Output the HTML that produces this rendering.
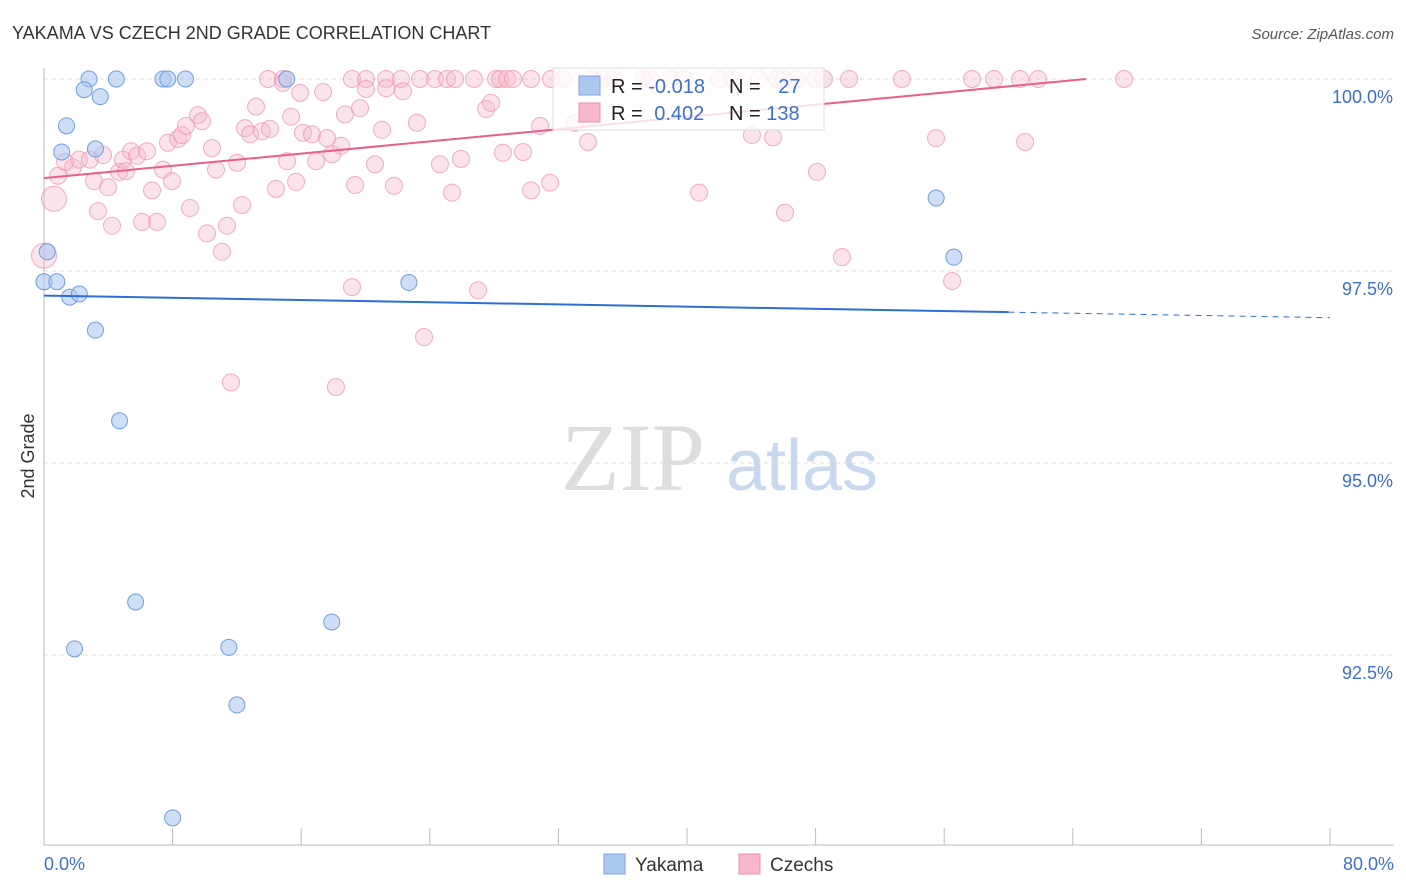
<!DOCTYPE html>
<html><head><meta charset="utf-8">
<style>
body{margin:0;background:#fff;font-family:"Liberation Sans",sans-serif;}
svg{display:block}
</style></head>
<body>
<svg width="1406" height="892" xmlns="http://www.w3.org/2000/svg">
<text x="12" y="39" font-size="18" fill="#333">YAKAMA VS CZECH 2ND GRADE CORRELATION CHART</text>
<text x="1394" y="39" font-size="15" fill="#555" text-anchor="end" font-style="italic">Source: ZipAtlas.com</text>
<g>
<text x="633" y="490" font-size="96" fill="#ddd" font-family="Liberation Serif,serif" text-anchor="middle">ZIP</text>
<text x="802" y="490" font-size="72" fill="#c8d8ef" text-anchor="middle">atlas</text>
</g>
<g id="grid"></g>
<g id="axes"></g>
<g id="pts"></g>
<g id="lines"></g>
<g>
<rect x="553" y="68" width="271" height="62" fill="#fff" fill-opacity="0.8" stroke="#ddd"/>
<rect x="579" y="76" width="21" height="19" fill="#adc8f0" stroke="#7da6e0"/>
<rect x="579" y="103" width="21" height="19" fill="#f6b8ca" stroke="#ee8faa"/>
<text x="611" y="93" font-size="20" fill="#222">R = <tspan fill="#3b6fd4">-0.018</tspan></text>
<text x="729" y="93" font-size="20" fill="#222">N = <tspan fill="#3b6fd4" dx="12">27</tspan></text>
<text x="611" y="120" font-size="20" fill="#222">R = <tspan fill="#3b6fd4" dx="6">0.402</tspan></text>
<text x="729" y="120" font-size="20" fill="#222">N = <tspan fill="#3b6fd4">138</tspan></text>
</g>
<g>
<rect x="604" y="854" width="21" height="20" fill="#adc8f0" stroke="#7da6e0"/>
<text x="635" y="871" font-size="19" fill="#333">Yakama</text>
<rect x="739" y="854" width="21" height="20" fill="#f6b8ca" stroke="#ee8faa"/>
<text x="770" y="871" font-size="19" fill="#333">Czechs</text>
</g>
<text transform="translate(34,456) rotate(-90)" font-size="18" fill="#333" text-anchor="middle">2nd Grade</text>
</svg>
<script>
const yTicks=[100,97.5,95,92.5];
const yTickLabels=["100.0%","97.5%","95.0%","92.5%"];
const xTicks=[0,8,16,24,32,40,48,56,64,72,80];
const xEndLabels=["0.0%","80.0%"];
const yakamaX=[0.2,0,0.8,1.6,2.2,3.2,2.8,4.5,7.4,7.7,8.8,15.1,2.5,3.5,1.4,1.1,3.2,4.7,5.7,1.9,11.5,17.9,12,8,22.7,55.5,56.6];
const yakamaY=[97.75,97.36,97.36,97.16,97.2,96.73,100,100,100,100,100,100,99.86,99.77,99.39,99.05,99.09,95.55,93.19,92.58,92.6,92.93,91.85,90.38,97.35,98.45,97.68];
const czTopX=[13.93,14.87,19.16,20.03,21.28,22.21,23.39,24.32,25.07,25.57,26.75,28.12,28.37,28.8,29.18,30.3,31.54,32.29,34.03,34.77,35.4,37.26,37.7,39,39.81,41.99,42.8,44.48,45.6,46.03,46.78,47.96,48.52,50.08,53.37,57.73,59.1,60.72,61.84,67.19];
const czX=[0.87,0.62,0,1.8,2.18,2.86,1.31,3.11,3.36,3.67,3.98,4.23,4.67,4.91,5.1,5.41,5.79,6.1,6.41,6.72,7.03,7.4,7.71,7.96,8.34,8.58,8.83,9.08,9.58,9.83,10.14,10.45,10.7,11.07,11.38,11.63,12.01,12.32,12.5,12.82,13.19,13.56,14.06,14.43,14.87,15.12,15.37,15.68,15.93,16.11,16.67,16.92,17.36,17.61,17.92,18.16,18.48,18.72,19.16,19.35,19.66,20.03,20.59,21.03,21.28,21.77,22.33,23.2,23.64,24.63,25.38,25.94,27,27.5,27.81,28.55,29.8,30.3,30.86,31.48,33.03,33.84,40.75,44.04,45.35,46.1,48.09,49.64,55.49,56.49,61.03];
const czY=[98.74,98.44,97.7,98.85,98.95,98.95,98.92,98.67,98.28,99.01,98.59,98.09,98.79,98.95,98.8,99.06,99,98.14,99.06,98.55,98.14,98.82,99.17,98.67,99.22,99.27,99.39,98.32,99.53,99.45,97.99,99.1,98.82,97.75,98.09,96.05,98.91,98.36,99.36,99.28,99.64,99.32,99.35,98.57,99.95,98.93,99.51,98.66,99.82,99.3,99.28,98.93,99.83,99.23,99.02,95.99,99.13,99.54,97.29,98.62,99.62,99.87,98.89,99.34,99.88,98.61,99.84,99.43,96.64,98.89,98.52,98.96,97.25,99.61,99.69,99.04,99.05,98.55,99.39,98.65,99.43,99.18,98.52,99.27,99.24,98.26,98.79,97.68,99.23,97.37,99.18];
const czBig=[1,2];
const yakTrend=[97.18,-0.0036];
const czTrend=[98.71,0.0199];
const X=v=>44+v*1286/80;
const Y=v=>79+(100-v)*76.8;
const NS="http://www.w3.org/2000/svg";
function mk(p,t,a){const e=document.createElementNS(NS,t);for(const k in a)e.setAttribute(k,a[k]);p.appendChild(e);return e;}
const grid=document.getElementById('grid'),axes=document.getElementById('axes'),pts=document.getElementById('pts'),lines=document.getElementById('lines');
yTicks.forEach((v,i)=>{
 const l=mk(grid,'line',{x1:44,x2:1394,y1:Y(v),y2:Y(v),stroke:'#ddd','stroke-dasharray':'4,4'});
 
 
 const t=mk(grid,'text',{x:1393,y:Y(v)+24,'font-size':18,fill:'#3b6fd4','text-anchor':'end'});
 t.textContent=yTickLabels[i];
 
 
});
const ax=mk(axes,'line',{x1:44,x2:44,y1:68,y2:845,stroke:'#bbb'});


const bx=mk(axes,'line',{x1:44,x2:1394,y1:845,y2:845,stroke:'#bbb'});


xTicks.forEach(v=>{
 const t=mk(axes,'line',{x1:X(v),x2:X(v),y1:828,y2:845,stroke:'#bbb'});
 
 
});
[[0,'start',44],[80,'end',1394]].forEach((a,i)=>{
 const t=mk(axes,'text',{x:a[2],y:870,'font-size':18,fill:'#3b6fd4','text-anchor':a[1]});
 t.textContent=xEndLabels[i];
 
 
});
czTopX.forEach(x=>{
 const c=mk(pts,'circle',{cx:X(x),cy:Y(100),r:8.5,fill:'#f6b8ca','fill-opacity':0.4,stroke:'#ee8faa','stroke-opacity':0.7});
 
 
});
czX.forEach((x,i)=>{
 const c=mk(pts,'circle',{cx:X(x),cy:Y(czY[i]),r:czBig.includes(i)?12.5:8.5,fill:'#f6b8ca','fill-opacity':0.4,stroke:'#ee8faa','stroke-opacity':0.7});
 
 
});
yakamaX.forEach((x,i)=>{
 const c=mk(pts,'circle',{cx:X(x),cy:Y(yakamaY[i]),r:8,fill:'#adc8f0','fill-opacity':0.6,stroke:'#6f9de0'});
 
 
});
const ye=60;
const l1=mk(lines,'line',{x1:X(0),y1:Y(yakTrend[0]),x2:X(ye),y2:Y(yakTrend[0]+yakTrend[1]*ye),stroke:'#2d6fd6','stroke-width':2});


const l2=mk(lines,'line',{x1:X(ye),y1:Y(yakTrend[0]+yakTrend[1]*ye),x2:X(80),y2:Y(yakTrend[0]+yakTrend[1]*80),stroke:'#2d6fd6','stroke-width':1,'stroke-dasharray':'6,5'});


const ce=Math.min(80,(100-czTrend[0])/czTrend[1]);
const l3=mk(lines,'line',{x1:X(0),y1:Y(czTrend[0]),x2:X(ce),y2:Y(czTrend[0]+czTrend[1]*ce),stroke:'#e8608a','stroke-width':2});


</script>
</body></html>
